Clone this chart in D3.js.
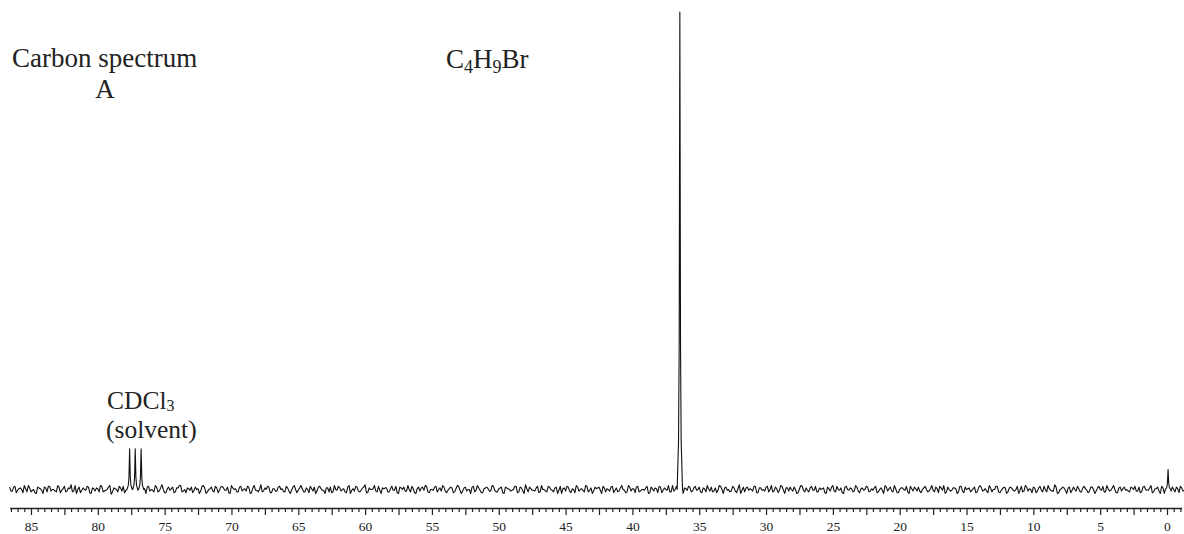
<!DOCTYPE html>
<html>
<head>
<meta charset="utf-8">
<script src="https://cdn.jsdelivr.net/npm/d3@7"></script>
<style>
  html, body { margin: 0; padding: 0; background: #fff; }
  svg { display: block; }
  text { font-family: "Liberation Serif", "Times New Roman", serif; fill: #222; }
</style>
</head>
<body>
<svg id="chart" width="1184" height="534"></svg>
<script>
// ---- data ----
// baseline noise samples (intensity units); series A from 86.6 ppm, series B from 86.5 ppm, every 0.2 ppm
const noiseStartPpmA = 86.6;
const noiseStartPpmB = 86.5;
const noiseStepPpm = 0.2;
const noiseA = [
  3,-2,4,-1,2,-4,1,5,-3,0,-5,2,-1,3,-3,4,0,-2,5,-4,
  1,-3,2,6,-2,-5,3,-1,0,4,-4,2,-2,1,5,-3,-1,3,-6,2,
  0,4,-2,-4,3,1,-3,5,-1,-2,2,-5,4,0,-3,3,-2,6,-4,1,
  -1,3,-3,2,5,-2,-4,1,3,-1,0,-5,4,2,-3,1,-2,4,-4,3,
  2,-1,-4,5,0,-3,3,-2,1,4,-5,2,-1,-3,6,-2,0,3,-4,1,
  -2,4,1,-3,2,-5,3,0,-1,5,-3,2,-4,1,3,-2,4,-1,-5,2,
  3,-3,0,4,-2,1,-4,5,-1,-2,3,-3,2,6,-4,0,1,-2,4,-5,
  1,2,-3,4,-1,-4,3,0,-2,5,-3,1,-5,3,2,-1,4,-4,0,3,
  -3,2,5,-2,-1,3,-4,1,4,-5,2,-2,0,3,-3,5,-1,-4,2,1,
  -2,4,-3,1,3,-5,2,0,-1,4,-4,3,-2,6,-3,1,-1,2,-4,5,
  0,-3,3,-1,2,-5,4,1,-2,3,-4,0,5,-2,1,-3,4,-1,-5,3,
  2,-1,4,-3,0,3,-4,2,-2,5,-1,-3,3,1,-4,4,-2,0,2,-5,
  3,-2,1,4,-4,2,-1,-3,5,0,-2,3,-5,1,4,-3,2,-1,3,-4,
  1,5,-2,-3,2,-1,4,-5,3,0,-2,2,-4,6,-1,-3,3,1,-2,4,
  -4,2,0,3,-3,5,-2,1,-1,4,-5,2,3,-2,0,-4,5,-1,2,-3,
  4,-1,-3,2,1,-4,3,-2,5,-3,0,2,-5,4,-1,1,-2,3,-4,2,
  0,3,-2,-1,4,-3,2,-5,3,1,-2,5,-4,0,2,-1,-3,4,-2,1,
  3,-4,2,0,-2,5,-3,1,4,-1,-5,3,-2,2,1,-3,4,-4,0,2,
  -1,3,-3,5,-2,1,-4,2,0,4,-3,-1,3,-5,2,1,-2,4,-1,-3,
  5,-2,0,3,-4,2,-1,4,-3,1,-2,6,-5,0,3,-1,2,-4,3,-2,
  1,-3,4,-1,-2,3,-5,2,0,4,-3,1,-1,5,-4,2,-2,3,0,-3,
  2,4,-2,-4,3,0,-1,5,-3,1,-2,4,-5,2,-1,3,-3,1,4,-2
];
const noiseB = [
  -2,3,-4,1,0,5,-3,2,-1,-4,3,1,-5,2,4,-2,0,-3,3,-1,
  4,-2,1,-3,5,0,-4,2,-1,3,-5,1,2,-3,4,-2,0,5,-3,1,
  -3,2,4,-1,-5,3,0,-2,4,-4,1,3,-2,-1,5,-3,2,0,-4,3,
  1,-4,2,5,-3,0,2,-1,-4,3,1,-2,5,-5,0,3,-3,2,-1,4,
  -1,3,-5,2,1,-3,4,0,-2,3,-4,5,-1,0,-3,2,4,-4,1,-2,
  3,0,-3,4,-2,-1,5,-4,2,1,-3,0,4,-2,-5,3,1,-1,2,-3,
  -4,5,-1,2,0,-3,3,-5,1,4,-2,-1,3,-4,2,0,5,-3,-1,2,
  2,-3,1,-1,4,-5,2,3,-2,0,4,-4,1,-2,3,5,-3,0,-1,4,
  0,-2,3,-4,1,2,-3,5,-1,-2,3,0,-5,4,-1,2,-4,1,3,-2,
  5,-1,-3,2,-4,3,1,-2,0,4,-3,2,-5,1,3,-1,-2,4,-3,0,
  -2,4,0,-3,3,-1,-5,2,4,-2,1,-4,3,0,-1,5,-3,2,-2,1,
  3,-5,2,1,-2,4,-1,-3,2,0,-4,5,-2,1,3,-3,0,-1,4,-4,
  1,2,-4,3,-1,0,5,-3,-2,4,1,-5,2,-1,3,-2,4,0,-3,2,
  -3,1,3,-2,-4,5,0,2,-1,-3,4,-2,1,-5,3,2,-1,0,4,-4,
  2,-1,-2,4,0,-3,3,-4,5,-1,2,-2,0,3,-5,1,4,-3,-1,2,
  -1,4,-3,0,2,-5,1,3,-2,4,-1,-4,3,0,2,-3,5,-2,1,-1,
  4,-3,1,2,-4,0,-1,5,-2,3,-3,1,-4,2,0,4,-5,1,3,-2,
  -2,0,4,-3,1,-1,3,-4,2,5,-3,0,-1,2,-5,4,-2,3,1,-3,
  1,-4,2,3,-1,-2,5,-3,0,4,-4,1,2,-3,3,-1,0,-5,4,-2,
  3,1,-4,2,-2,4,-3,0,5,-1,-2,3,-4,1,2,-5,3,-1,0,4,
  -3,2,1,-4,3,0,-2,4,-1,-3,5,-2,2,0,-4,3,1,-1,-2,3,
  0,-2,3,-3,4,-1,2,-4,1,3,-5,2,-1,4,-2,0,3,-4,2,-1
];
// peaks: chemical shift (ppm) and height (intensity units)
const peakPpm    = [77.62, 77.2, 76.76, 36.45, -0.08];
const peakHeight = [51,    51,   51,    600,   25];
// line shape around each peak top
const shapeOffsetPpm = [-0.2, -0.1, -0.05, 0, 0.05, 0.1, 0.2];
const shapeFraction  = [0, 0.1, 0.3, 1, 0.3, 0.1, 0];
// axis
const tickLabels = [85, 80, 75, 70, 65, 60, 55, 50, 45, 40, 35, 30, 25, 20, 15, 10, 5, 0];
const majorTickStep = 2.5;
const minorTickStep = 0.5;
const tickRange = [86.5, -1.0];

// ---- drawing ----
const svg = d3.select("#chart");
const x = d3.scaleLinear().domain([86.6, -1.1]).range([9.6, 1181.7]);
const y = d3.scaleLinear().domain([0, 600]).range([489.5, 12]);

// build spectrum points
let pts = [];
function addNoise(arr, start) {
  arr.forEach((v, i) => {
    const p = start - i * noiseStepPpm;
    const nearPeak = peakPpm.some(pp => Math.abs(p - pp) <= 0.2);
    if (!nearPeak) pts.push([p, v]);
  });
}
addNoise(noiseA, noiseStartPpmA);
addNoise(noiseB, noiseStartPpmB);
peakPpm.forEach((pp, k) => {
  shapeOffsetPpm.forEach((o, j) => {
    pts.push([pp + o, peakHeight[k] * shapeFraction[j]]);
  });
});
pts.sort((a, b) => b[0] - a[0]);

const line = d3.line().x(d => x(d[0])).y(d => y(d[1]));
svg.append("path")
  .datum(pts)
  .attr("d", line)
  .attr("fill", "none")
  .attr("stroke", "#111")
  .attr("stroke-width", 1.1)
  .attr("stroke-linejoin", "round");

// axis
const axisY = 508;
const minorTicks = d3.range(tickRange[0], tickRange[1] - 0.001, -minorTickStep)
  .filter(t => Math.abs(t / majorTickStep - Math.round(t / majorTickStep)) > 1e-6);
const majorTicks = d3.range(85, -0.001, -majorTickStep);

const gMinor = svg.append("g").attr("transform", `translate(0,${axisY})`)
  .call(d3.axisBottom(x).tickValues(minorTicks).tickSize(4).tickSizeOuter(0).tickFormat(""));
const gMajor = svg.append("g").attr("transform", `translate(0,${axisY})`)
  .call(d3.axisBottom(x).tickValues(majorTicks).tickSize(7).tickSizeOuter(0).tickPadding(6)
    .tickFormat(d => tickLabels.includes(d) ? String(d) : ""));
gMinor.select(".domain").remove();
[gMinor, gMajor].forEach(g => {
  g.selectAll("line").attr("stroke", "#222").attr("stroke-width", 1.2);
  g.selectAll("path.domain").attr("stroke", "#222").attr("stroke-width", 1.4);
});
gMajor.selectAll("text")
  .style("font-family", "'Liberation Serif', 'Times New Roman', serif")
  .style("font-size", "13.5px")
  .attr("fill", "#222");

// annotations
const fs = 27;
svg.append("text").attr("x", 12).attr("y", 67).style("font-size", fs + "px").text("Carbon spectrum");
svg.append("text").attr("x", 105).attr("y", 98).attr("text-anchor", "middle").style("font-size", fs + "px").text("A");

const f = svg.append("text").attr("x", 446).attr("y", 68).style("font-size", fs + "px");
f.append("tspan").text("C");
f.append("tspan").attr("dy", 5).style("font-size", "18px").text("4");
f.append("tspan").attr("dy", -5).text("H");
f.append("tspan").attr("dy", 5).style("font-size", "18px").text("9");
f.append("tspan").attr("dy", -5).text("Br");

// solvent label
const s = svg.append("text").attr("x", 107).attr("y", 409).style("font-size", "25.5px");
s.append("tspan").text("CDCl");
s.append("tspan").attr("dy", 2).style("font-size", "16px").text("3");
svg.append("text").attr("x", 106).attr("y", 438).style("font-size", "25.5px").text("(solvent)");
</script>
</body>
</html>
